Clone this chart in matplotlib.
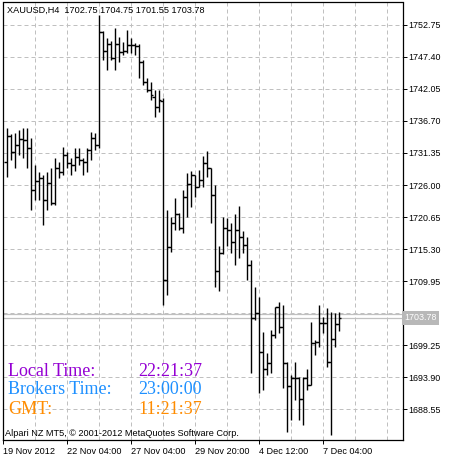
import numpy as np
import matplotlib
matplotlib.use("Agg")
from matplotlib import pyplot as plt
from matplotlib import transforms

plt.rcParams['font.family'] = ['Liberation Sans', 'DejaVu Sans']
plt.rcParams['font.size'] = 6.6

# XAUUSD H4 bars, oldest first
opens = [1729.85, 1734.19, 1731.52, 1732.69, 1733.69, 1733.52, 1732.19, 1725.16, 1726.67, 1727.17,
         1723.49, 1726.33, 1722.99, 1728.84, 1728.17, 1731.02, 1729.68, 1729.34, 1730.68, 1730.18,
         1729.85, 1731.85, 1733.86, 1732.69, 1751.58, 1748.45, 1749.57, 1747.23, 1749.57, 1748.24,
         1748.40, 1749.41, 1749.41, 1749.24, 1746.56, 1743.27, 1741.88, 1740.77, 1738.99, 1740.10,
         1710.12, 1715.68, 1719.65, 1721.15, 1718.86, 1724.04, 1726.17, 1727.67, 1725.72, 1726.84,
         1729.73, 1728.84, 1724.33, 1711.67, 1714.63, 1718.81, 1718.48, 1716.52, 1718.48, 1717.31,
         1715.97, 1712.62, 1703.76, 1704.65, 1698.13, 1695.19, 1696.19, 1700.92, 1705.55, 1702.31,
         1696.19, 1692.40, 1693.73, 1693.73, 1690.22, 1693.73, 1692.56, 1699.58, 1699.80, 1702.93,
         1702.93, 1696.46, 1700.25, 1702.75]
highs = [1735.53, 1734.53, 1734.70, 1735.20, 1735.53, 1735.53, 1733.86, 1729.34, 1728.17, 1727.67,
         1728.17, 1728.84, 1730.51, 1729.85, 1732.35, 1731.52, 1730.51, 1732.19, 1732.19, 1730.51,
         1732.19, 1734.86, 1734.70, 1754.42, 1751.75, 1750.58, 1750.07, 1752.25, 1750.74, 1749.91,
         1751.91, 1750.58, 1749.74, 1749.57, 1746.90, 1743.89, 1743.22, 1741.88, 1741.88, 1740.54,
         1721.82, 1720.70, 1723.83, 1721.32, 1725.16, 1728.01, 1728.39, 1727.67, 1728.51, 1730.90,
         1731.68, 1728.84, 1726.00, 1715.85, 1720.70, 1720.48, 1719.65, 1721.15, 1722.49, 1718.36,
         1717.36, 1713.46, 1709.00, 1707.33, 1701.47, 1697.91, 1701.76, 1705.65, 1706.49, 1705.94,
         1696.41, 1694.23, 1696.46, 1693.90, 1693.90, 1695.24, 1703.15, 1700.09, 1705.94, 1703.98,
         1705.44, 1704.82, 1704.65, 1704.75]
lows = [1727.34, 1730.18, 1728.84, 1731.02, 1730.51, 1728.84, 1721.82, 1723.49, 1723.49, 1719.31,
        1721.82, 1722.66, 1722.66, 1727.17, 1727.67, 1728.84, 1727.67, 1728.34, 1729.34, 1727.67,
        1728.17, 1730.18, 1731.85, 1732.19, 1746.90, 1745.23, 1746.90, 1745.23, 1746.56, 1747.73,
        1748.07, 1748.07, 1747.73, 1743.89, 1742.72, 1741.55, 1740.21, 1737.37, 1738.20, 1705.94,
        1707.61, 1714.85, 1718.48, 1718.48, 1717.98, 1720.65, 1722.32, 1723.99, 1725.67, 1725.72,
        1727.39, 1719.70, 1709.00, 1708.28, 1714.46, 1715.80, 1714.63, 1712.62, 1713.80, 1714.63,
        1710.12, 1694.57, 1703.43, 1691.22, 1691.73, 1694.23, 1694.52, 1700.42, 1701.21, 1692.01,
        1684.70, 1686.71, 1690.05, 1686.71, 1685.88, 1691.73, 1692.56, 1697.58, 1698.97, 1701.26,
        1695.62, 1684.20, 1698.97, 1701.55]
closes = [1734.19, 1731.52, 1732.69, 1733.69, 1733.52, 1732.19, 1725.16, 1726.67, 1727.17, 1723.49,
          1726.33, 1722.99, 1728.84, 1728.17, 1731.02, 1729.68, 1729.34, 1730.68, 1730.18, 1729.85,
          1731.85, 1733.86, 1732.69, 1751.58, 1748.45, 1749.57, 1747.23, 1749.57, 1748.24, 1748.40,
          1749.41, 1749.41, 1749.24, 1746.56, 1743.27, 1741.88, 1741.05, 1738.99, 1740.21, 1710.12,
          1715.68, 1719.65, 1721.15, 1718.86, 1724.04, 1726.17, 1727.67, 1725.72, 1726.84, 1729.73,
          1728.84, 1724.33, 1711.67, 1714.63, 1718.81, 1718.48, 1716.52, 1718.48, 1717.31, 1715.97,
          1712.62, 1703.76, 1704.65, 1698.13, 1695.19, 1696.19, 1700.92, 1705.55, 1702.31, 1696.19,
          1692.40, 1693.73, 1693.73, 1690.22, 1693.73, 1692.56, 1699.58, 1699.80, 1702.93, 1702.93,
          1696.46, 1700.25, 1702.76, 1703.78]

symbol = "XAUUSD,H4"
bid = 1703.78
ask = 1704.43

price_ticks = [1752.75, 1747.40, 1742.05, 1736.70, 1731.35, 1726.00, 1720.65,
               1715.30, 1709.95, 1704.60, 1699.25, 1693.90, 1688.55]
hidden_price_labels = [1704.60]
date_ticks = [-1, 15, 31, 47, 63, 79]
date_labels = ["19 Nov 2012", "22 Nov 04:00", "27 Nov 04:00",
               "29 Nov 20:00", "4 Dec 12:00", "7 Dec 04:00"]

clock_labels = ["Local Time:", "Brokers Time:", "GMT:"]
clock_values = ["22:21:37", "23:00:00", "11:21:37"]
clock_colors = ["#9400D3", "#1E90FF", "#FF8C00"]
copyright_text = "Alpari NZ MT5, \u00a9 2001-2012 MetaQuotes Software Corp."

W, H = 455, 461
fig = plt.figure(figsize=(W / 100, H / 100), dpi=100)
ax = fig.add_axes([2.7 / W, 21 / H, 400 / W, 437.5 / H])

grid_kw = dict(color='#C0C0C0', lw=0.72, ls=(0, (4, 3)), zorder=0)
for v in price_ticks:
    ax.axhline(v, **grid_kw)
for g in range(7, 100, 8):
    ax.axvline(g, **grid_kw)

# bid / ask lines
ax.axhline(ask, color='#C0C0C0', lw=0.9, zorder=1)
ax.axhline(bid, color='#C0C0C0', lw=0.9, zorder=1)

x = np.arange(len(opens))
bar_kw = dict(color='black', lw=1.0, zorder=3)
ax.vlines(x, lows, highs, **bar_kw)
ax.hlines(opens, x - 0.6, x, **bar_kw)
ax.hlines(closes, x, x + 0.6, **bar_kw)

ax.set_xlim(-1, 99)
ax.set_ylim(1683.37, 1756.51)

ax.yaxis.tick_right()
ax.set_yticks(price_ticks)
ax.set_yticklabels(["" if v in hidden_price_labels else f"{v:.2f}" for v in price_ticks])
ax.tick_params(axis='y', length=3, width=0.7, pad=1.2, labelsize=6.4)

ax.set_xticks(date_ticks)
ax.set_xticklabels(date_labels)
ax.tick_params(axis='x', length=3.2, width=0.7, pad=1.5, labelsize=6.6)
for lbl in ax.get_xticklabels():
    lbl.set_ha('left')

for s in ax.spines.values():
    s.set_linewidth(0.9)
    s.set_color('black')

# current price label on the right (covers the ask tag underneath)
trans = transforms.blended_transform_factory(ax.transAxes, ax.transData)
ax.text(1.004, bid, f"{bid:.2f}", transform=trans, color='white', fontsize=6.4,
        va='center', ha='left', clip_on=False, zorder=5,
        bbox=dict(boxstyle='square,pad=0.3', fc='#B8B8B8', ec='none'))

# header
fig.text(7 / W, 1 - 10 / H,
         f"{symbol}  {opens[-1]:.2f} {highs[-1]:.2f} {lows[-1]:.2f} {closes[-1]:.2f}",
         fontsize=6.6, va='center', ha='left')

# clock panel
for k, (lab, val, col) in enumerate(zip(clock_labels, clock_values, clock_colors)):
    yy = 1 - (371 + 19 * k) / H
    fig.text(8 / W, yy, lab, color=col, fontsize=13, family='Liberation Serif', va='center')
    fig.text(138 / W, yy, val, color=col, fontsize=13, family='Liberation Serif', va='center')

fig.text(5 / W, 1 - 433 / H, copyright_text, fontsize=6.6, va='center', ha='left')

fig.savefig("out.png", dpi=100, facecolor='white')
